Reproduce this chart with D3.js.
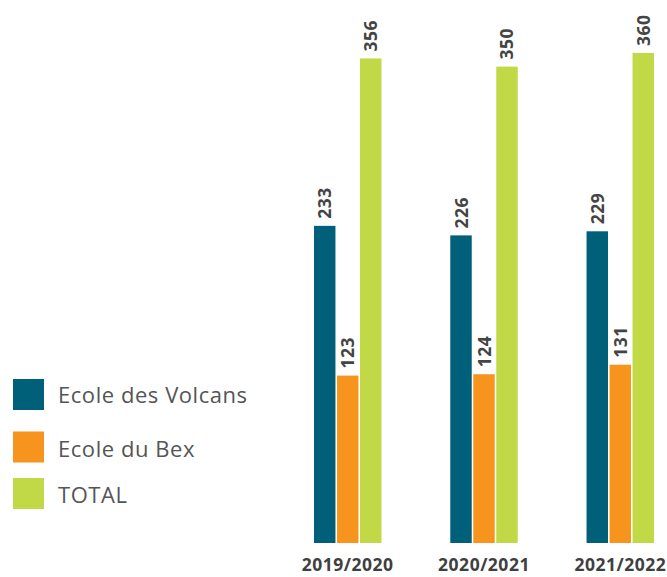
<!DOCTYPE html>
<html>
<head>
<meta charset="utf-8">
<script src="https://cdn.jsdelivr.net/npm/d3@7"></script>
<style>
  body { margin: 0; background: #fff; }
  .axis path, .axis line { display: none; }
  .axis text { font-family: "Open Sans", sans-serif; font-weight: 700; font-size: 17.5px; letter-spacing: 0.5px; fill: #3f3f3f; }
  .valeur { font-family: "Open Sans", sans-serif; font-weight: 700; font-size: 17.5px; letter-spacing: 0.5px; fill: #444; }
  .legende text { font-family: "Open Sans", sans-serif; font-size: 22px; letter-spacing: 0.55px; fill: #555; }
</style>
</head>
<body>
<div id="graf"></div>
<script>
// Données
const annees = ["2019/2020", "2020/2021", "2021/2022"]
const series = ["Ecole des Volcans", "Ecole du Bex", "TOTAL"]
const volcans = [233, 226, 229]
const bex = [123, 124, 131]
const total = [356, 350, 360]
const couleurs = ["#005F79", "#F7941D", "#C1D847"]

const valeurs = [volcans, bex, total]

// Dimensions
const anchoTotal = 667
const altoTotal = 577

const svg = d3.select("#graf")
  .append("svg")
  .attr("width", anchoTotal)
  .attr("height", altoTotal)

// Escaladores
const x = d3.scaleBand().domain(annees).range([314, 654]).paddingInner(0.505).paddingOuter(0)
const xs = d3.scaleBand().domain(series).range([0, x.bandwidth()]).paddingInner(0.067)
const y = d3.scaleLinear().domain([0, 360]).range([543, 53])
const color = d3.scaleOrdinal().domain(series).range(couleurs)

const datos = annees.flatMap((a, i) =>
  series.map((s, j) => ({ annee: a, serie: s, valeur: valeurs[j][i] }))
)

const g = svg.append("g")

g.selectAll("rect")
  .data(datos)
  .enter()
  .append("rect")
  .attr("x", (d) => x(d.annee) + xs(d.serie))
  .attr("y", (d) => y(d.valeur))
  .attr("width", xs.bandwidth())
  .attr("height", (d) => y(0) - y(d.valeur))
  .attr("fill", (d) => color(d.serie))

// Etiquettes (verticales)
g.selectAll("text.valeur")
  .data(datos)
  .enter()
  .append("text")
  .classed("valeur", true)
  .attr("transform", (d) => {
    const cx = x(d.annee) + xs(d.serie) + xs.bandwidth() / 2
    return `translate(${cx + 6.5}, ${y(d.valeur) - 7}) rotate(-90)`
  })
  .text((d) => d.valeur)

// Axe
svg.append("g")
  .classed("axis", true)
  .attr("transform", `translate(0, ${y(0)})`)
  .call(d3.axisBottom(x).tickSize(0).tickPadding(16))

// Légende
const legende = svg.append("g").classed("legende", true)
const legY = [394.5, 447, 493.5]
const legTxt = [397, 451, 497]
series.forEach((s, i) => {
  legende.append("rect")
    .attr("x", 13)
    .attr("y", legY[i] - 15.5)
    .attr("width", 31)
    .attr("height", 31)
    .attr("fill", color(s))
  legende.append("text")
    .attr("x", 58)
    .attr("y", legTxt[i])
    .attr("dominant-baseline", "middle")
    .text(s)
})
</script>
</body>
</html>
